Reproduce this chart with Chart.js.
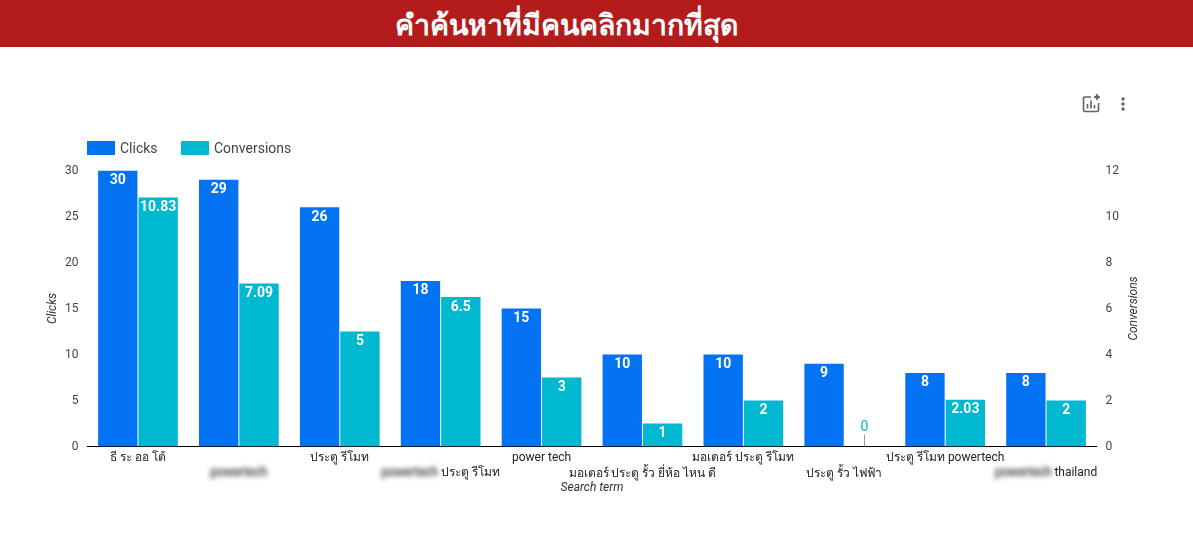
<!DOCTYPE html>
<html>
<head>
<meta charset="utf-8">
<script src="https://cdn.jsdelivr.net/npm/chart.js@4"></script>
<style>
html, body { margin: 0; padding: 0; background: #fff; overflow: hidden; }
body { width: 1193px; height: 534px; position: relative; font-family: Roboto, "Noto Sans", sans-serif; }
#header { position: absolute; left: 0; top: 0; width: 1193px; height: 47px; background: #b41c1b; color: #fff;
  font: bold 28.5px Roboto, "Noto Sans", sans-serif; line-height: 52px; text-align: center; text-indent: -60px; }
#chartBox { position: absolute; left: 0; top: 47px; width: 1193px; height: 487px; }
#legend { position: absolute; left: 87px; top: 140px; height: 16px; font-size: 14px; line-height: 16px; color: #444; white-space: nowrap; }
#legend span.box { position: absolute; top: 1px; width: 28px; height: 14px; }
#legend span.txt { position: absolute; top: 0; }
#icons { position: absolute; left: 1080px; top: 93px; }
</style>
</head>
<body>
<div id="header">คำค้นหาที่มีคนคลิกมากที่สุด</div>
<div id="chartBox"><canvas id="grafico" width="1193" height="487"></canvas></div>
<div id="legend"></div>
<svg id="icons" width="52" height="22" viewBox="0 0 52 22">
  <g fill="none" stroke="#5f6368" stroke-width="1.6">
    <path d="M11 4H5a1.5 1.5 0 0 0-1.5 1.5V17A1.5 1.5 0 0 0 5 18.500h12a1.500 1.500 0 0 0 1.500-1.500V10"/>
    <path d="M7.500 15.500V11M11 15.500V7.500M14.500 15.500V12"/>
  </g>
  <path d="M17 1l.9 2.100 2.100.9-2.100.9-.9 2.100-.9-2.100-2.100-.9 2.100-.9z" fill="#5f6368" stroke="#5f6368" stroke-width="1"/>
  <g fill="#5f6368"><circle cx="43" cy="6" r="1.700"/><circle cx="43" cy="11" r="1.700"/><circle cx="43" cy="16" r="1.700"/></g>
</svg>
<script>
var categorias = ["ธี ระ ออ โต้", "powertech", "ประตู รีโมท", "powertech ประตู รีโมท", "power tech",
  "มอเตอร์ ประตู รั้ว ยี่ห้อ ไหน ดี", "มอเตอร์ ประตู รีโมท", "ประตู รั้ว ไฟฟ้า", "ประตู รีโมท powertech", "powertech thailand"];
var clicks = [30, 29, 26, 18, 15, 10, 10, 9, 8, 8];
var conversions = [10.83, 7.09, 5, 6.5, 3, 1, 2, 0, 2.03, 2];
var ticksClicks = [0, 5, 10, 15, 20, 25, 30];
var ticksConversions = [0, 2, 4, 6, 8, 10, 12];
// los que salen borrosos en el original
var palabraBorrosa = "powertech";
var indicesBorrosos = [1, 3, 9];

var azul = "#0372f3";
var turquesa = "#00b8cf";
var fuenteTick = "12px Roboto, 'Noto Sans', sans-serif";

// leyenda en html
var leyenda = document.getElementById("legend");
[["Clicks", azul, 0, 33], ["Conversions", turquesa, 94, 127]].forEach(function (l) {
  leyenda.innerHTML += '<span class="box" style="left:' + l[2] + 'px;background:' + l[1] + '"></span>' +
    '<span class="txt" style="left:' + l[3] + 'px">' + l[0] + '</span>';
});

var etiquetasBarras = {
  id: "etiquetasBarras",
  afterDatasetsDraw: function (chart) {
    var ctx = chart.ctx;
    ctx.save();
    ctx.textAlign = "center";
    ctx.textBaseline = "middle";
    ctx.font = "bold 14px Roboto, 'Noto Sans', sans-serif";
    chart.data.datasets.forEach(function (ds, d) {
      chart.getDatasetMeta(d).data.forEach(function (bar, i) {
        if (ds.data[i] === 0) {
          // valor cero: etiqueta arriba con linea guia
          ctx.strokeStyle = "#999";
          ctx.lineWidth = 1;
          ctx.beginPath();
          ctx.moveTo(Math.round(bar.x) + 0.5, bar.y - 12);
          ctx.lineTo(Math.round(bar.x) + 0.5, bar.y);
          ctx.stroke();
          ctx.fillStyle = ds.backgroundColor;
          ctx.font = "14px Roboto, 'Noto Sans', sans-serif";
          ctx.fillText(ds.data[i], bar.x, bar.y - 19);
          ctx.font = "bold 14px Roboto, 'Noto Sans', sans-serif";
        } else {
          ctx.fillStyle = "#fff";
          ctx.fillText(ds.data[i], bar.x, bar.y + 10);
        }
      });
    });
    ctx.restore();
  }
};

var textoBorroso = {
  id: "textoBorroso",
  afterDraw: function (chart) {
    var ctx = chart.ctx, escala = chart.scales.x;
    ctx.save();
    ctx.font = fuenteTick;
    ctx.textBaseline = "middle";
    ctx.textAlign = "left";
    indicesBorrosos.forEach(function (i) {
      var texto = categorias[i];
      var resto = texto.slice(palabraBorrosa.length);
      var x = escala.getPixelForTick(i) - ctx.measureText(texto).width / 2;
      var y = escala.top + (i % 2 === 0 ? 10 : 26);
      ctx.filter = "blur(2.5px)";
      ctx.fillStyle = "#666";
      ctx.fillText(palabraBorrosa, x, y);
      ctx.fillText(palabraBorrosa, x, y);
      ctx.filter = "none";
      ctx.fillStyle = "#222";
      ctx.fillText(resto, x + ctx.measureText(palabraBorrosa).width, y);
    });
    ctx.restore();
  }
};

// chart.js gira el titulo derecho al reves, aqui va como el izquierdo
var tituloDerecho = {
  id: "tituloDerecho",
  afterDraw: function (chart) {
    var ctx = chart.ctx, escala = chart.scales.y1;
    ctx.save();
    ctx.translate(1133.5, (escala.top + escala.bottom) / 2);
    ctx.rotate(-Math.PI / 2);
    ctx.font = "italic 12px Roboto, 'Noto Sans', sans-serif";
    ctx.fillStyle = "#333";
    ctx.textAlign = "center";
    ctx.textBaseline = "middle";
    ctx.fillText("Conversions", 0, 0);
    ctx.restore();
  }
};

new Chart(document.getElementById("grafico"), {
  type: "bar",
  plugins: [etiquetasBarras, textoBorroso, tituloDerecho],
  data: {
    labels: categorias,
    datasets: [
      { label: "Clicks", data: clicks, yAxisID: "y", backgroundColor: azul, categoryPercentage: 0.8, barPercentage: 0.975 },
      { label: "Conversions", data: conversions, yAxisID: "y1", backgroundColor: turquesa, categoryPercentage: 0.8, barPercentage: 0.975 }
    ]
  },
  options: {
    responsive: false,
    animation: false,
    layout: { padding: { top: 123.5, left: 0, right: 0, bottom: 0 } },
    plugins: { legend: { display: false }, tooltip: { enabled: false } },
    scales: {
      x: {
        afterFit: function (s) { s.height = 87.5; },
        grid: { display: false, drawTicks: false },
        border: { color: "#000", width: 1 },
        ticks: {
          autoSkip: false, maxRotation: 0, minRotation: 0, padding: 4,
          font: { family: "Roboto, 'Noto Sans', sans-serif", size: 12, lineHeight: 1.333 },
          color: function (c) { return indicesBorrosos.indexOf(c.index) >= 0 ? "rgba(0,0,0,0)" : "#222"; },
          callback: function (v, i) { return i % 2 === 0 ? categorias[i] : ["", categorias[i]]; }
        },
        title: { display: true, text: "Search term", color: "#333", font: { size: 12, style: "italic", family: "Roboto" }, padding: { top: 0, bottom: 39 } }
      },
      y: {
        position: "left", min: 0, max: 30,
        afterFit: function (s) { s.width = 87.5; },
        afterBuildTicks: function (s) { s.ticks = ticksClicks.map(function (v) { return { value: v }; }); },
        grid: { display: false, drawTicks: false },
        border: { display: false },
        ticks: { padding: 9, color: "#444", font: { size: 12, family: "Roboto" } },
        title: { display: true, text: "Clicks", color: "#333", font: { size: 12, style: "italic", family: "Roboto" }, padding: { top: 46, bottom: 0 } }
      },
      y1: {
        position: "right", min: 0, max: 12,
        afterFit: function (s) { s.width = 96.5; },
        afterBuildTicks: function (s) { s.ticks = ticksConversions.map(function (v) { return { value: v }; }); },
        grid: { display: false, drawTicks: false },
        border: { display: false },
        ticks: { padding: 9, color: "#444", font: { size: 12, family: "Roboto" } }
      }
    }
  }
});
</script>
</body>
</html>
